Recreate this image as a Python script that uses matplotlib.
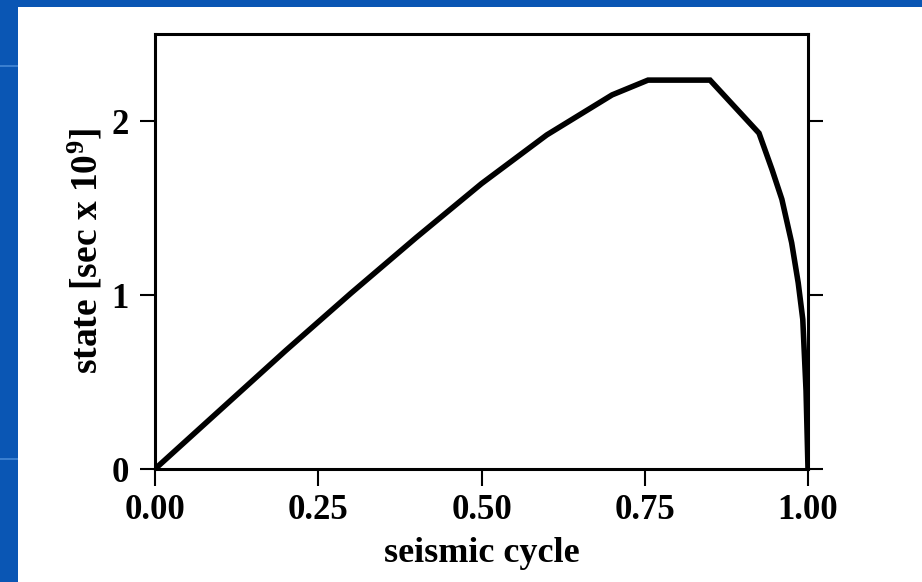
import matplotlib.pyplot as plt
from matplotlib.patches import Rectangle

cycle = [0.0, 0.1, 0.2, 0.3, 0.4, 0.5, 0.6, 0.7, 0.755, 0.85, 0.925, 0.945, 0.96, 0.975, 0.985, 0.992, 0.997, 1.0]
state = [0.0, 0.34, 0.68, 1.01, 1.33, 1.64, 1.92, 2.15, 2.235, 2.235, 1.93, 1.72, 1.55, 1.3, 1.07, 0.86, 0.45, 0.0]
xticks = [0.0, 0.25, 0.5, 0.75, 1.0]
xlabels = ['0.00', '0.25', '0.50', '0.75', '1.00']
yticks = [0, 1, 2]

plt.rcParams['font.family'] = ['Liberation Serif', 'DejaVu Serif']
plt.rcParams['font.weight'] = 'bold'
plt.rcParams['mathtext.fontset'] = 'custom'
plt.rcParams['mathtext.rm'] = 'Liberation Serif:bold'
plt.rcParams['mathtext.it'] = 'Liberation Serif:bold'

fig = plt.figure(figsize=[9.22, 5.82], dpi=100)
fig.patch.set_facecolor('#0a56b4')
# white slide area
fig.patches.append(Rectangle((18/922, 0), 1, 575/582, transform=fig.transFigure,
                             facecolor='white', edgecolor='none', zorder=-10))
# faint lines on left strip
for yy in [67, 460]:
    fig.patches.append(Rectangle((0, 1 - yy/582), 18/922, 2/582, transform=fig.transFigure,
                                 facecolor='#3a7fd0', edgecolor='none', zorder=-10))

ax = fig.add_axes([155/922, 113/582, 653/922, 435/582])
ax.set_zorder(5)
ax.plot(cycle, state, '-', color='black', lw=4, solid_joinstyle='miter')
ax.set_xlim(0, 1)
ax.set_ylim(0, 2.5)
ax.set_xticks(xticks)
ax.set_xticklabels(xlabels)
ax.set_yticks(yticks)
ax.tick_params(axis='both', direction='out', length=11, width=1.5, labelsize=25, colors='black')
ax.tick_params(axis='x', length=12, pad=6)
ax.tick_params(axis='y', pad=8, right=True)
for s in ax.spines.values():
    s.set_linewidth(2.2)
ax.set_xlabel('seismic cycle', fontsize=26, fontweight='bold', labelpad=7)
ax.set_ylabel('state [sec x 10$^9$]', fontsize=27, fontweight='bold', labelpad=4)

plt.savefig('out.png', dpi=100, facecolor=fig.get_facecolor())
